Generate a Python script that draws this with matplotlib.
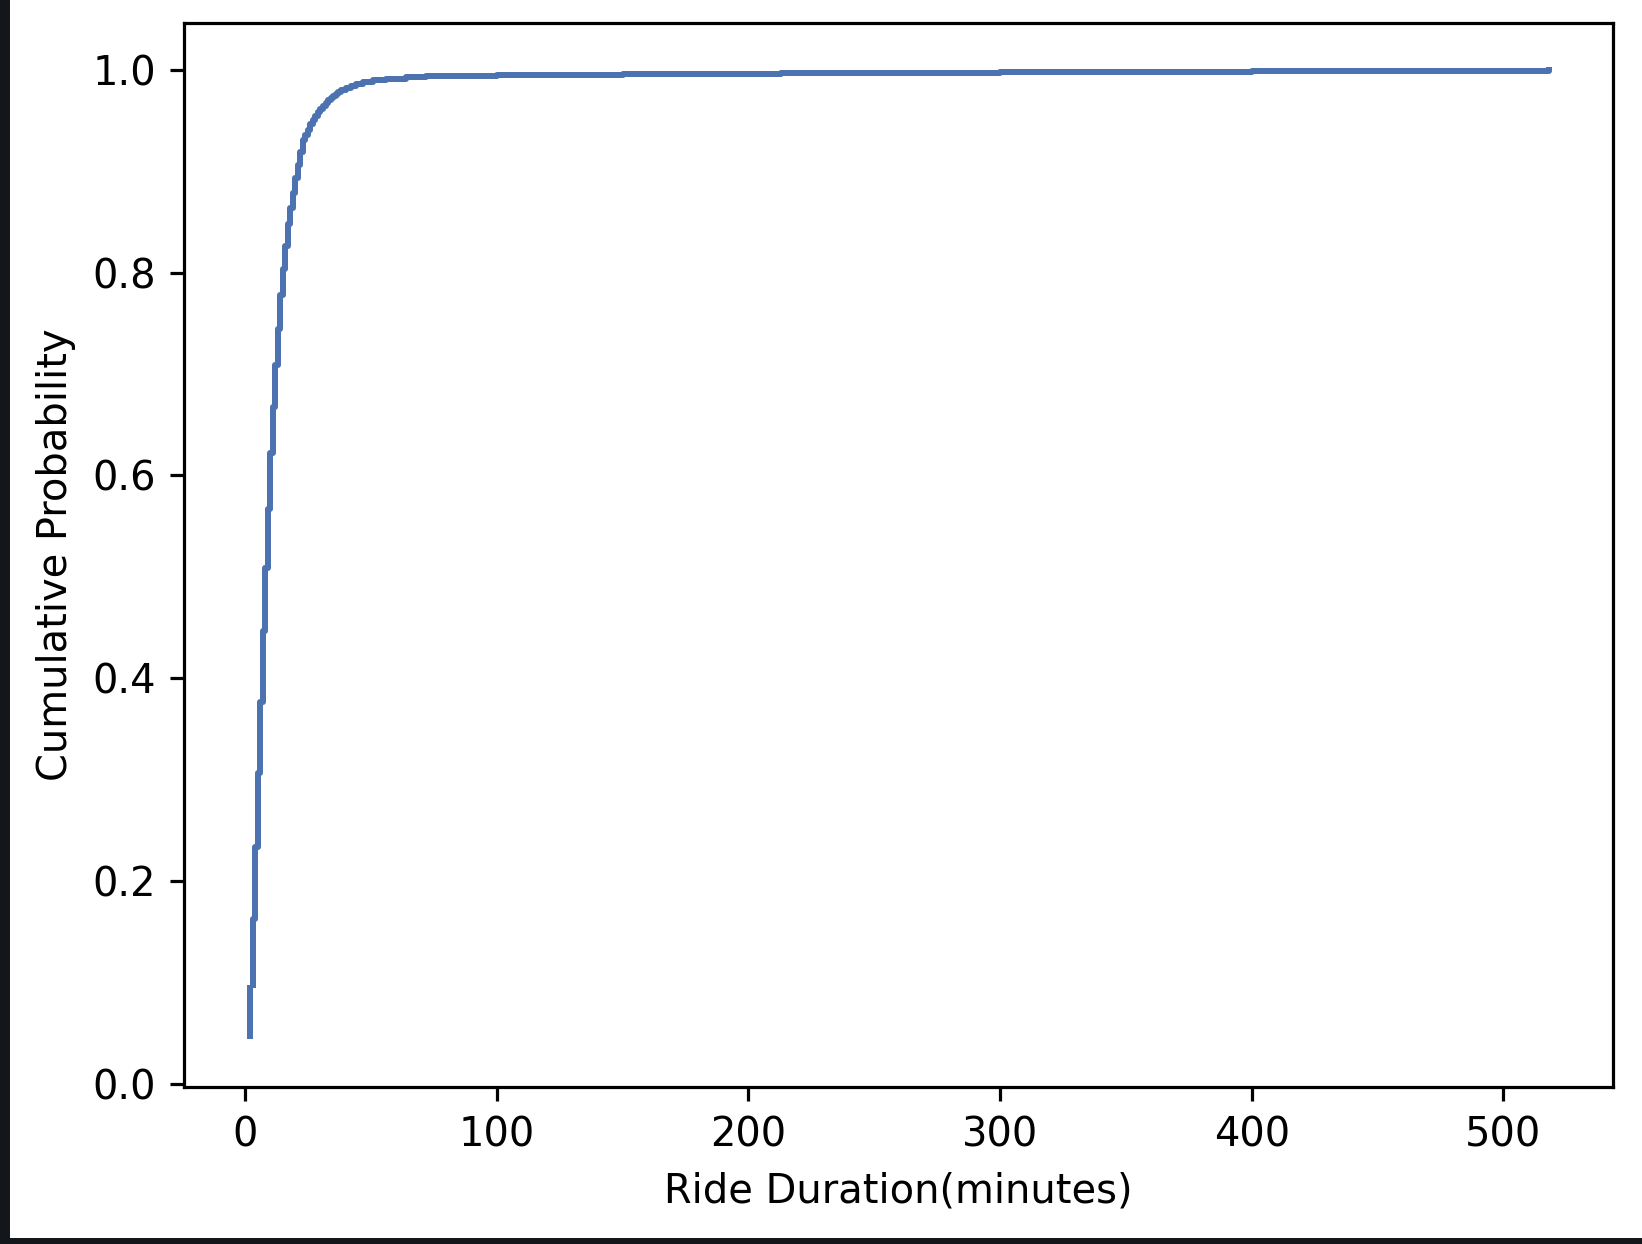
import numpy as np
import matplotlib
matplotlib.use("Agg")
import matplotlib.pyplot as plt
from matplotlib.patches import Rectangle


minutes = [2, 3, 4, 5, 6, 7, 8, 9, 10, 11, 12, 13, 14, 15, 16, 17, 18, 19,
           20, 21, 22, 23, 24, 25, 26, 27, 28, 29, 30, 31, 32, 33, 34, 35,
           36, 37, 38, 40, 42, 44, 47, 51, 56, 64, 72, 84, 100, 150, 213,
           300, 400, 518]

# share of rides shorter than each duration
share_shorter = [0.044, 0.098, 0.163, 0.234, 0.307, 0.377, 0.447, 0.509,
                 0.567, 0.622, 0.667, 0.709, 0.744, 0.778, 0.803, 0.826,
                 0.848, 0.864, 0.878, 0.893, 0.906, 0.919, 0.931, 0.936,
                 0.941, 0.946, 0.950, 0.954, 0.958, 0.961, 0.964, 0.967,
                 0.970, 0.972, 0.974, 0.976, 0.978, 0.980, 0.982, 0.984,
                 0.986, 0.988, 0.990, 0.991, 0.9925, 0.9935, 0.994, 0.995,
                 0.996, 0.9965, 0.998, 0.999]
share_shorter = share_shorter + [1.0]
minutes_plot = minutes + [518]

DPI = 288
fig = plt.figure(figsize=(1642 / DPI, 1244 / DPI), dpi=DPI)
ax = fig.add_axes([0.1121, 0.1262, 0.8702, 0.8553])

ax.step(minutes_plot[1:], share_shorter[1:], where="pre", color="#4c72b0",
        linewidth=1.5)
# first vertical jump starts at the lowest value
ax.plot([minutes[0], minutes[0]], [share_shorter[0], share_shorter[1]],
        color="#4c72b0", linewidth=1.5, solid_capstyle="butt")

ax.set_xlim(-24.2, 543.5)
ax.set_ylim(-0.003, 1.046)
ax.set_xticks(np.arange(0, 501, 100))
ax.set_yticks(np.arange(0, 1.01, 0.2))
ax.set_xlabel("Ride Duration(minutes)")
ax.set_ylabel("Cumulative Probability")

# dark screenshot edges
fig.patches.append(Rectangle((0, 0), 8 / 1642, 1, transform=fig.transFigure,
                             color="#13171c", zorder=10))
fig.patches.append(Rectangle((0, 0), 1, 4 / 1244, transform=fig.transFigure,
                             color="#13171c", zorder=10))

fig.savefig("out.png", dpi=DPI)
